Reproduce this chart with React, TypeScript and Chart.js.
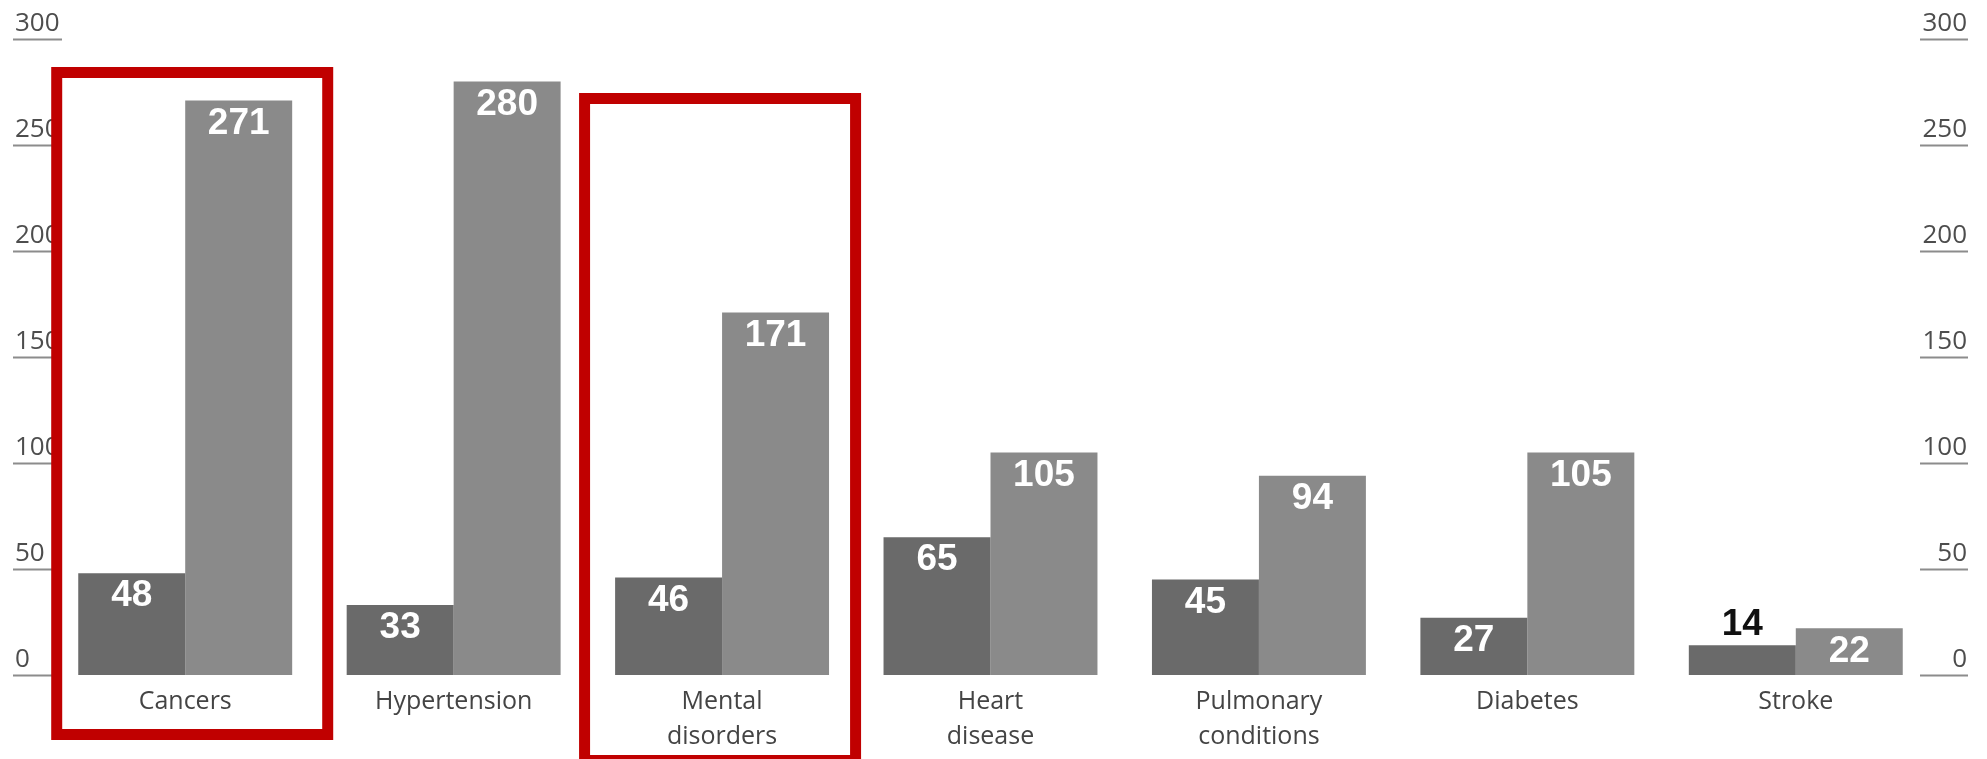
import React, { useEffect, useRef } from "react";
import { Chart, registerables } from "chart.js";

Chart.register(...registerables);

const categories: string[][] = [
  ["Cancers"],
  ["Hypertension"],
  ["Mental", "disorders"],
  ["Heart", "disease"],
  ["Pulmonary", "conditions"],
  ["Diabetes"],
  ["Stroke"],
];
const seriesA: number[] = [48, 33, 46, 65, 45, 27, 14];
const seriesB: number[] = [271, 280, 171, 105, 94, 105, 22];
const yTicks: number[] = [0, 50, 100, 150, 200, 250, 300];
const highlighted: number[] = [0, 2];

const DARK = "#6a6a6a";
const LIGHT = "#8a8a8a";
const RED = "#c00000";
const LABEL_FONT = "'Open Sans', sans-serif";
const VALUE_FONT = "'Liberation Sans', Arial, sans-serif";

// box geometry relative to category centre (pixels), one per highlighted category
const boxGeom = [
  { dl: -134, dr: 148, top: 67, bottom: 740 },
  { dl: -143, dr: 139, top: 93, bottom: 766 },
];

const overlayPlugin = {
  id: "overlay",
  beforeDatasetsDraw(chart: any) {
    const ctx = chart.ctx as CanvasRenderingContext2D;
    const y = chart.scales.y;
    const area = chart.chartArea;
    ctx.save();
    ctx.font = `26px ${LABEL_FONT}`;
    ctx.textBaseline = "alphabetic";
    for (const v of yTicks) {
      const py = y.getPixelForValue(v);
      ctx.fillStyle = "#4d4d4d";
      ctx.textAlign = "left";
      ctx.fillText(String(v), area.left - 36, py - 8);
      ctx.textAlign = "right";
      ctx.fillText(String(v), area.right + 37, py - 8);
      ctx.strokeStyle = "#8c8c8c";
      ctx.lineWidth = 2;
      ctx.beginPath();
      ctx.moveTo(area.left - 38, py + 0.5);
      ctx.lineTo(area.left + 11, py + 0.5);
      ctx.moveTo(area.right - 10, py + 0.5);
      ctx.lineTo(area.right + 38, py + 0.5);
      ctx.stroke();
    }
    ctx.restore();
  },
  afterDatasetsDraw(chart: any) {
    const ctx = chart.ctx as CanvasRenderingContext2D;
    const x = chart.scales.x;
    const area = chart.chartArea;
    ctx.save();
    // value labels
    ctx.font = `bold 37px ${VALUE_FONT}`;
    ctx.textAlign = "center";
    ctx.textBaseline = "middle";
    chart.data.datasets.forEach((ds: any, di: number) => {
      const meta = chart.getDatasetMeta(di);
      meta.data.forEach((bar: any, i: number) => {
        const v = ds.data[i];
        const h = bar.base - bar.y;
        if (h >= 40) {
          ctx.fillStyle = "#ffffff";
          ctx.fillText(String(v), bar.x, bar.y + 23);
        } else {
          ctx.fillStyle = "#111111";
          ctx.fillText(String(v), bar.x, bar.y - 21);
        }
      });
    });
    // category labels
    ctx.font = `25px ${LABEL_FONT}`;
    ctx.fillStyle = "#444444";
    categories.forEach((lines, i) => {
      const cx = x.getPixelForValue(i);
      lines.forEach((ln, li) => {
        ctx.fillText(ln, cx, area.bottom + 27 + li * 35);
      });
    });
    // highlight boxes
    ctx.strokeStyle = RED;
    ctx.lineWidth = 11;
    highlighted.forEach((idx, k) => {
      const g = boxGeom[k];
      const cx = x.getPixelForValue(idx);
      const l = cx + g.dl;
      const r = cx + g.dr;
      ctx.strokeRect(l + 5.5, g.top + 5.5, r - l - 11, g.bottom - g.top - 11);
    });
    ctx.restore();
  },
};

export default function App() {
  const ref = useRef<HTMLCanvasElement | null>(null);
  useEffect(() => {
    document.body.style.margin = "0";
    document.body.style.background = "#ffffff";
    const canvas = ref.current;
    if (!canvas) return;
    const chart = new Chart(canvas, {
      type: "bar",
      data: {
        labels: categories.map((c) => c.join(" ")),
        datasets: [
          {
            label: "A",
            data: seriesA,
            backgroundColor: DARK,
            barPercentage: 1,
            categoryPercentage: 0.797,
          },
          {
            label: "B",
            data: seriesB,
            backgroundColor: LIGHT,
            barPercentage: 1,
            categoryPercentage: 0.797,
          },
        ],
      },
      options: {
        responsive: false,
        animation: false,
        events: [],
        layout: { padding: { left: 51, right: 57, top: 39, bottom: 84 } },
        plugins: { legend: { display: false }, tooltip: { enabled: false } },
        scales: {
          x: { display: false, offset: true },
          y: { display: false, min: 0, max: 300 },
        },
      },
      plugins: [overlayPlugin],
    });
    return () => chart.destroy();
  }, []);
  return (
    <div style={{ width: 1987, height: 759, background: "#fff" }}>
      <canvas ref={ref} width={1987} height={759} style={{ display: "block", width: 1987, height: 759 }} />
    </div>
  );
}
